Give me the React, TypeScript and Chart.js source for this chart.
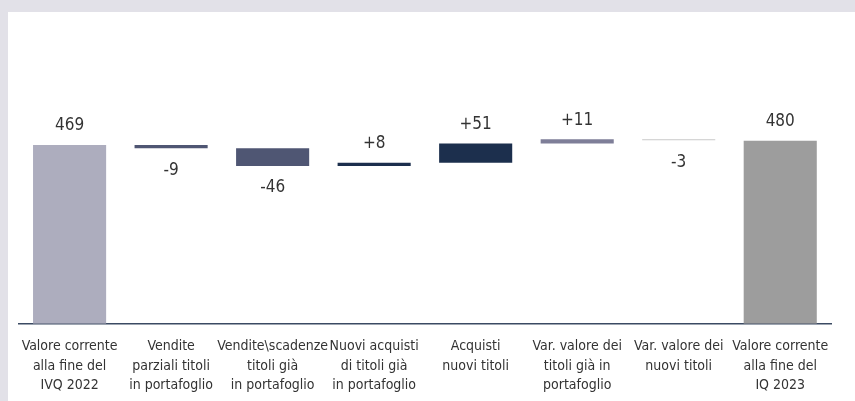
import React, { useEffect, useRef } from "react";
import { Chart, registerables } from "chart.js";

Chart.register(...registerables);

const categories: string[][] = [
  ["Valore corrente", "alla fine del", "IVQ 2022"],
  ["Vendite", "parziali titoli", "in portafoglio"],
  ["Vendite\\scadenze", "titoli già", "in portafoglio"],
  ["Nuovi acquisti", "di titoli già", "in portafoglio"],
  ["Acquisti", "nuovi titoli"],
  ["Var. valore dei", "titoli già in", "portafoglio"],
  ["Var. valore dei", "nuovi titoli"],
  ["Valore corrente", "alla fine del", "IQ 2023"],
];

const changes: number[] = [469, -9, -46, 8, 51, 11, -3, 480];
const isTotal: boolean[] = [true, false, false, false, false, false, false, true];
const valueLabels: string[] = ["469", "-9", "-46", "+8", "+51", "+11", "-3", "480"];
const barColors: string[] = [
  "#adadbe",
  "#4f5673",
  "#4f5673",
  "#1c2f4d",
  "#1c2f4d",
  "#7e7e98",
  "#c9c9c9",
  "#9d9d9d",
];

const FONT = "'DejaVu Sans Condensed', 'Liberation Sans', sans-serif";

function buildRanges(): [number, number][] {
  const out: [number, number][] = [];
  let level = 0;
  changes.forEach((v, i) => {
    if (isTotal[i]) {
      out.push([0, v]);
      level = v;
    } else {
      out.push([level, level + v]);
      level = level + v;
    }
  });
  return out;
}

const valueLabelPlugin = {
  id: "valueLabels",
  afterDatasetsDraw(chart: any) {
    const ctx = chart.ctx;
    const meta = chart.getDatasetMeta(0);
    ctx.save();
    ctx.font = `17px ${FONT}`;
    ctx.fillStyle = "#333333";
    ctx.textAlign = "center";
    ctx.textBaseline = "middle";
    meta.data.forEach((bar: any, i: number) => {
      const top = Math.min(bar.y, bar.base);
      const bottom = Math.max(bar.y, bar.base);
      const neg = changes[i] < 0 && !isTotal[i];
      const y = neg ? bottom + 22 : top - 19;
      ctx.fillText(valueLabels[i], bar.x, y);
    });
    ctx.restore();
  },
};

export default function App() {
  const ref = useRef<HTMLCanvasElement | null>(null);
  useEffect(() => {
    document.body.style.margin = "0";
    document.body.style.background = "#e2e1e8";
    if (!ref.current) return;
    const chart = new Chart(ref.current, {
      type: "bar",
      data: {
        labels: categories,
        datasets: [
          {
            data: buildRanges() as any,
            backgroundColor: barColors,
            borderWidth: 0,
            categoryPercentage: 0.72,
            barPercentage: 1,
          },
        ],
      },
      options: {
        animation: false,
        responsive: false,
        maintainAspectRatio: false,
        layout: { padding: { left: 10, right: 24, top: 22, bottom: -7.5 } },
        plugins: {
          legend: { display: false },
          tooltip: { enabled: false },
        },
        scales: {
          x: {
            grid: { display: false, drawTicks: false },
            border: { display: true, color: "#3b4a63", width: 1.5 },
            ticks: {
              color: "#333333",
              font: { family: FONT, size: 14, lineHeight: 1.4 },
              padding: 13,
              maxRotation: 0,
              autoSkip: false,
            },
          },
          y: {
            display: false,
            min: 0,
            max: 760,
          },
        },
      },
      plugins: [valueLabelPlugin],
    });
    return () => chart.destroy();
  }, []);
  return (
    <div style={{ position: "absolute", left: 8, top: 12, width: 847, height: 389, background: "#ffffff" }}>
      <canvas ref={ref} width={847} height={389} style={{ display: "block" }} />
    </div>
  );
}
